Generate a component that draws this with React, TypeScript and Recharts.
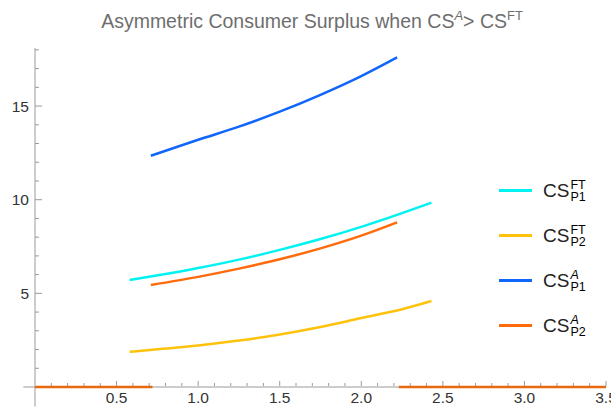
import { LineChart, Line, XAxis, YAxis, ReferenceLine } from 'recharts';

const xFT = [0.58, 0.8, 1.0, 1.25, 1.5, 1.75, 2.0, 2.25, 2.43];
const xA = [0.71, 1.0, 1.25, 1.5, 1.75, 2.0, 2.22];

// consumer surplus values
const csP1FT = [5.71, 6.03, 6.35, 6.8, 7.32, 7.9, 8.55, 9.28, 9.84];
const csP2FT = [1.88, 2.05, 2.22, 2.48, 2.8, 3.2, 3.68, 4.15, 4.59];
const csP1A = [12.35, 13.2, 13.9, 14.7, 15.6, 16.6, 17.6];
const csP2A = [5.45, 5.88, 6.32, 6.82, 7.4, 8.08, 8.79];

// CS_P2^A sits at zero outside its range
const zeroLeftX = [0, 0.72];
const zeroRightX = [2.23, 3.5];

// ticks
const xTicks = [
  0.1, 0.2, 0.3, 0.4, 0.5, 0.6, 0.7, 0.8, 0.9, 1.0, 1.1, 1.2, 1.3, 1.4, 1.5, 1.6, 1.7, 1.8,
  1.9, 2.0, 2.1, 2.2, 2.3, 2.4, 2.5, 2.6, 2.7, 2.8, 2.9, 3.0, 3.1, 3.2, 3.3, 3.4, 3.5,
];
const xLabels = [0.5, 1.0, 1.5, 2.0, 2.5, 3.0, 3.5];
const yTicks = [1, 2, 3, 4, 5, 6, 7, 8, 9, 10, 11, 12, 13, 14, 15, 16, 17, 18];
const yLabels = [5, 10, 15];

const COLORS = {
  p1ft: '#00F2F2',
  p2ft: '#FFC20A',
  p1a: '#1066FA',
  p2a: '#FF6A0A',
  zero: '#E8690F',
};

const AXIS = '#9a9a9a';
const FONT = '"Liberation Sans", Arial, sans-serif';

const toPoints = (xs: number[], ys: number[]) => xs.map((x, i) => ({ x, y: ys[i] }));

const XTick = ({ x, y, payload }: any) => {
  const major = xLabels.includes(payload.value);
  return (
    <g>
      <line x1={x} x2={x} y1={y - 1} y2={y - (major ? 6 : 4)} stroke={AXIS} />
      {major && (
        <text x={x} y={y + 16} textAnchor="middle" fontSize={15.5} fill="#333" fontFamily={FONT}>
          {payload.value.toFixed(1)}
        </text>
      )}
    </g>
  );
};

const YTick = ({ x, y, payload }: any) => {
  const major = yLabels.includes(payload.value);
  return (
    <g>
      <line x1={x} x2={x + (major ? 7 : 4)} y1={y} y2={y} stroke={AXIS} />
      {major && (
        <text x={x - 6} y={y + 5.5} textAnchor="end" fontSize={15.5} fill="#333" fontFamily={FONT}>
          {payload.value}
        </text>
      )}
    </g>
  );
};

const Script = ({ sup, sub, italicSup }: { sup: string; sub: string; italicSup?: boolean }) => (
  <span style={{ display: 'inline-flex', flexDirection: 'column', fontSize: 12.5, lineHeight: '12px', marginLeft: 1 }}>
    <span style={{ fontStyle: italicSup ? 'italic' : 'normal' }}>{sup}</span>
    <span>{sub}</span>
  </span>
);

const legendItems = [
  { color: COLORS.p1ft, sup: 'FT', sub: 'P1', italic: false },
  { color: COLORS.p2ft, sup: 'FT', sub: 'P2', italic: false },
  { color: COLORS.p1a, sup: 'A', sub: 'P1', italic: true },
  { color: COLORS.p2a, sup: 'A', sub: 'P2', italic: true },
];

export default function App() {
  return (
    <div style={{ position: 'absolute', left: 0, top: 0, width: 611, height: 410, background: '#fff', fontFamily: FONT }}>
      <div
        style={{
          position: 'absolute',
          left: 0,
          width: 624,
          top: 8,
          textAlign: 'center',
          fontSize: 19.5,
          color: '#6e6e6e',
          whiteSpace: 'nowrap',
        }}
      >
        Asymmetric Consumer Surplus when CS<sup style={{ fontSize: 13, fontStyle: 'italic' }}>A</sup>&gt; CS
        <sup style={{ fontSize: 13 }}>FT</sup>
      </div>

      <LineChart width={611} height={410} margin={{ top: 48, right: 5, left: 0, bottom: 0 }}>
        <XAxis
          dataKey="x"
          type="number"
          domain={[0, 3.5]}
          ticks={xTicks}
          interval={0}
          height={23}
          tickSize={0}
          tickMargin={0}
          tick={<XTick />}
          axisLine={false}
        />
        <YAxis
          type="number"
          domain={[0, 18.1]}
          ticks={yTicks}
          interval={0}
          width={35}
          tickSize={0}
          tickMargin={0}
          tick={<YTick />}
          axisLine={{ stroke: AXIS }}
        />
        {/* axis lines crossing at the origin */}
        <ReferenceLine segment={[{ x: 0, y: 0 }, { x: 0, y: -1.05 }]} stroke={AXIS} ifOverflow="visible" />
        <ReferenceLine segment={[{ x: -0.072, y: 0 }, { x: 3.5, y: 0 }]} stroke={AXIS} ifOverflow="visible" />

        <Line data={toPoints(xFT, csP1FT)} dataKey="y" type="monotone" stroke={COLORS.p1ft} strokeWidth={2.5} dot={false} isAnimationActive={false} />
        <Line data={toPoints(xFT, csP2FT)} dataKey="y" type="monotone" stroke={COLORS.p2ft} strokeWidth={2.5} dot={false} isAnimationActive={false} />
        <Line data={toPoints(xA, csP1A)} dataKey="y" type="monotone" stroke={COLORS.p1a} strokeWidth={2.5} dot={false} isAnimationActive={false} />
        <Line data={toPoints(xA, csP2A)} dataKey="y" type="monotone" stroke={COLORS.p2a} strokeWidth={2.5} dot={false} isAnimationActive={false} />
        <Line data={zeroLeftX.map((x) => ({ x, y: 0 }))} dataKey="y" stroke={COLORS.zero} strokeWidth={2.5} dot={false} isAnimationActive={false} />
        <Line data={zeroRightX.map((x) => ({ x, y: 0 }))} dataKey="y" stroke={COLORS.zero} strokeWidth={2.5} dot={false} isAnimationActive={false} />
      </LineChart>

      <div style={{ position: 'absolute', left: 499, top: 168 }}>
        {legendItems.map((it, i) => (
          <div key={i} style={{ display: 'flex', alignItems: 'center', height: 45 }}>
            <span style={{ display: 'inline-block', width: 33, height: 3, background: it.color, marginRight: 11 }} />
            <span style={{ fontSize: 19, color: '#222' }}>CS</span>
            <Script sup={it.sup} sub={it.sub} italicSup={it.italic} />
          </div>
        ))}
      </div>
    </div>
  );
}
